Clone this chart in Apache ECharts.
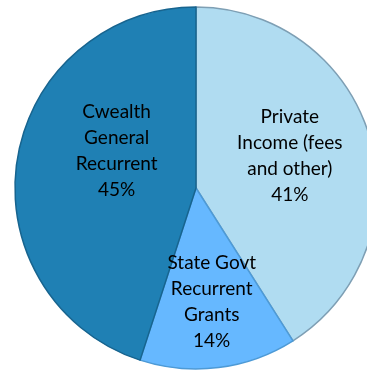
<!DOCTYPE html>
<html>
<head>
<meta charset="utf-8">
<script src="https://cdn.jsdelivr.net/npm/echarts@6/dist/echarts.min.js"></script>
<style>html,body{margin:0;padding:0;background:#fff;}#c{width:367px;height:370px;}</style>
</head>
<body>
<div id="c"></div>
<script>
var categories = ["Private\nIncome (fees\nand other)", "State Govt\nRecurrent\nGrants", "Cwealth\nGeneral\nRecurrent"];
var values = [41, 14, 45];

var sliceColors = ["#B0DCF1", "#66B8FF", "#1F80B4"];
var borderColors = ["#7E9FB4", "#4D9AD6", "#17648F"];
var labelOffsets = [[4, -6], [4, 21], [13, -22]];

var chart = echarts.init(document.getElementById('c'), null, {renderer: 'canvas'});
var data = categories.map(function (n, i) {
  return {
    name: n,
    value: values[i],
    itemStyle: {color: sliceColors[i], borderColor: borderColors[i], borderWidth: 1.5},
    label: {offset: labelOffsets[i]}
  };
});
chart.setOption({
  animation: false,
  series: [{
    type: 'pie',
    center: [196, 188],
    radius: 181,
    startAngle: 90,
    clockwise: true,
    data: data,
    label: {
      show: true,
      position: 'inside',
      formatter: '{b}\n{c}%',
      color: '#000',
      fontFamily: 'Lato',
      fontSize: 19,
      lineHeight: 26,
      align: 'center'
    },
    labelLine: {show: false},
    emphasis: {disabled: true}
  }]
});
</script>
</body>
</html>
